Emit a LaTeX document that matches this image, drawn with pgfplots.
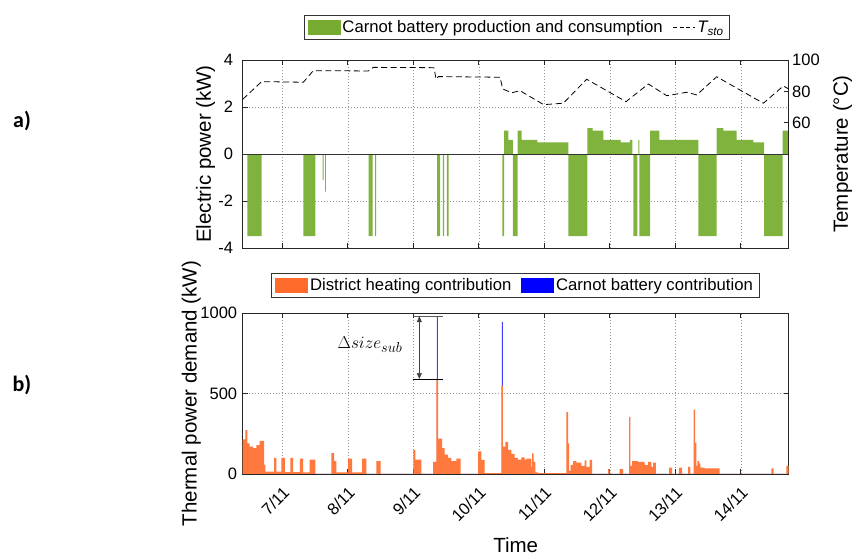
\documentclass[border=0pt]{standalone}
\usepackage{pgfplots}
\pgfplotsset{compat=1.18}
\usetikzlibrary{arrows.meta}
\usepackage{fontspec}
\setmainfont{Liberation Sans}
\newfontfamily\calib{Carlito}
\definecolor{cbgreen}{RGB}{128,179,62}
\definecolor{cbgreenleg}{RGB}{119,172,48}
\definecolor{dhorange}{RGB}{255,120,62}
\definecolor{dhorangeleg}{RGB}{255,107,43}
\definecolor{cbblue}{RGB}{0,0,255}
\definecolor{gridgray}{RGB}{150,150,150}
\pgfplotsset{
  mybase/.style={
    scale only axis, width=546pt, anchor=south west,
    xmin=6.395, xmax=14.731,
    tick align=inside, major tick length=5pt,
    axis line style={line width=0.7pt, black!85},
    every tick/.style={black!85, line width=0.7pt},
    tick label style={font=\fontsize{16.5}{18}\selectfont},
    /pgf/number format/assume math mode=true,
    /pgf/number format/1000 sep={},
    label style={font=\fontsize{20.5}{24}\selectfont},
    major grid style={gridgray, dash pattern=on 1pt off 2pt, line width=0.6pt},
    legend style={font=\fontsize{16.7}{18}\selectfont, draw=black!80, line width=0.6pt,
      inner xsep=4pt, inner ysep=3.5pt,
      /tikz/every even column/.append style={column sep=8pt}},
    legend cell align=left,
  },
}
\begin{document}
\begin{tikzpicture}
\useasboundingbox (0pt,0pt) rectangle (855pt,557pt);
% ---------- a) electric power ----------
\begin{axis}[mybase, at={(242.7pt,309pt)}, height=188pt,
  ymin=-4, ymax=4, ytick={-4,-2,0,2,4}, ytick pos=left,
  xtick={7,...,14}, xticklabels={},
  grid=major,
  ylabel={Electric power (kW)},
  ylabel style={at={(axis description cs:-0.05,0.5)}, anchor=south, inner sep=0pt},
  yticklabel style={xshift=-6pt},
]
\addplot[const plot, fill=cbgreen, draw=none] coordinates {
(6.395,0) (6.466,-3.5) (6.685,0) (7.321,-3.5) (7.504,0) (7.617,-1.1) (7.632,0)
(7.652,-1.6) (7.663,0) (8.319,-3.5) (8.380,0) (8.415,-3.5) (8.431,0)
(9.362,-3.5) (9.408,0) (9.453,-3.5) (9.469,0) (9.514,-3.5) (9.540,0)
(10.359,-3.5) (10.385,1.0) (10.450,0.6) (10.518,-3.5) (10.594,1.0) (10.655,0.6)
(10.893,0.5) (11.366,-3.5) (11.656,1.1) (11.739,1.0) (11.901,0.6) (12.166,0.5)
(12.308,0.6) (12.344,0) (12.359,-3.5) (12.420,0) (12.435,0.6) (12.450,-3.5)
(12.614,1.0) (12.756,0.6) (13.351,-3.5) (13.632,1.1) (13.733,1.0) (13.937,0.6)
(14.191,0.5) (14.354,-3.5) (14.640,1.0) (14.731,1.0) (14.731,0)
} \closedcycle;
\addplot[black!80, line width=0.8pt] coordinates {(6.395,0) (14.731,0)};
\end{axis}
% ---------- temperature axis ----------
\begin{axis}[mybase, at={(242.7pt,309pt)}, height=188pt,
  axis x line=none, axis y line*=right,
  ymin=-20, ymax=100, ytick={60,80,100},
  ylabel={Temperature (°C)},
  ylabel style={at={(axis description cs:1.081,0.5)}, anchor=north, inner sep=0pt},
  legend style={at={(axis description cs:0.502,1.106)}, anchor=south},
  legend columns=2,
]
\addlegendimage{legend image code/.code={\fill[cbgreenleg] (0pt,-7pt) rectangle (32pt,7pt);}}
\addlegendentry{Carnot battery production and consumption}
\addplot[black, line width=0.8pt, dash pattern=on 6pt off 3.5pt,
  legend image code/.code={\draw[black, line width=0.7pt, dash pattern=on 4pt off 2.5pt] (0pt,0pt) -- (22pt,0pt);}]
coordinates {
(6.395,74.9) (6.685,86.2) (7.321,85.8) (7.473,93.2) (8.313,93.0) (8.389,95.3)
(9.316,95.1) (9.347,87.7) (9.382,89.4) (10.324,89.0) (10.365,81.5) (10.502,79.1)
(10.629,80.4) (10.99,71.5) (11.29,72.4) (11.647,87.7) (12.247,73.4) (12.588,84.7)
(12.869,77.2) (13.174,79.4) (13.327,77.7) (13.632,89.3) (14.344,72.4) (14.649,83.4)
(14.731,81.5)
};
\addlegendentry{\textit{T\textsubscript{sto}}}
\end{axis}
% ---------- b) thermal power ----------
\begin{axis}[mybase, at={(242.7pt,83pt)}, height=161pt,
  ymin=0, ymax=1000, ytick={0,500,1000},
  xtick={7,...,14}, xticklabels={7/11,8/11,9/11,10/11,11/11,12/11,13/11,14/11},
  xticklabel style={xshift=4pt, rotate=45, anchor=east, inner sep=0pt},
  xticklabel shift=16pt,
  grid=major,
  ylabel={Thermal power demand (kW)},
  ylabel style={at={(axis description cs:-0.076,0.5)}, anchor=south, inner sep=0pt},
  yticklabel style={xshift=-2pt},
  xlabel={Time},
  xlabel style={at={(axis description cs:0.5,-0.44)}, anchor=center},
  legend style={at={(axis description cs:0.499,1.093)}, anchor=south},
  legend columns=2,
]
\addlegendimage{legend image code/.code={\fill[dhorangeleg] (0pt,-7pt) rectangle (32pt,7pt);}}
\addlegendentry{District heating contribution}
\addlegendimage{legend image code/.code={\fill[cbblue] (0pt,-7pt) rectangle (32pt,7pt);}}
\addlegendentry{Carnot battery contribution}
\addplot[const plot, fill=cbblue!75, draw=none, forget plot] coordinates {
(6.395,0) (9.358,980) (9.375,0) (10.351,945) (10.367,0) (14.731,0)
} \closedcycle;
\addplot[const plot, fill=dhorange, draw=none, forget plot] coordinates {
(6.395,0) (6.395,215) (6.435,273) (6.466,190) (6.502,170) (6.553,160) (6.603,180)
(6.655,205) (6.721,56) (6.740,15) (6.873,100) (6.908,15) (6.985,100) (7.037,12)
(7.122,100) (7.163,12) (7.266,95) (7.316,10) (7.418,90) (7.504,0) (7.748,130)
(7.789,80) (7.824,10) (8.003,95) (8.064,10) (8.217,95) (8.282,0) (8.435,80)
(8.502,0) (9.000,150) (9.031,90) (9.122,0) (9.301,75) (9.351,590) (9.377,220)
(9.438,160) (9.479,120) (9.530,100) (9.580,80) (9.656,95) (9.724,0) (9.988,140)
(10.038,87) (10.090,5) (10.344,550) (10.369,170) (10.405,200) (10.446,150)
(10.496,125) (10.548,100) (10.598,90) (10.649,104) (10.701,90) (10.725,96)
(10.802,45) (10.812,128) (10.838,76) (10.863,10) (10.904,5) (11.336,385)
(11.362,190) (11.377,20) (11.403,56) (11.438,80) (11.489,70) (11.565,50)
(11.617,85) (11.641,45) (11.693,88) (11.728,0) (11.973,30) (11.998,0)
(12.151,30) (12.202,0) (12.293,355) (12.313,50) (12.339,80) (12.431,75)
(12.533,55) (12.583,75) (12.634,45) (12.660,70) (12.705,0) (12.904,40)
(12.950,0) (13.056,40) (13.102,0) (13.194,45) (13.229,0) (13.281,400)
(13.301,195) (13.321,50) (13.336,80) (13.362,65) (13.382,40) (13.449,35)
(13.678,0) (14.466,35) (14.502,0) (14.695,50) (14.731,50) (14.731,0)
} \closedcycle;
\draw[black!65, line width=0.8pt] (axis cs:8.991,980) -- (axis cs:9.449,980);
\draw[black, line width=0.8pt] (axis cs:8.991,590) -- (axis cs:9.449,590);
\draw[black!75, line width=0.6pt, {Triangle[length=6pt,width=5pt]}-{Triangle[length=6pt,width=5pt]}]
  (axis cs:9.092,980) -- (axis cs:9.092,590);
\node[font=\fontsize{19}{21}\selectfont] at (axis cs:8.339,806) {$\Delta size_{sub}$};
\end{axis}
\node[font=\calib\bfseries\fontsize{22}{24}\selectfont] at (22pt,436pt) {a)};
\node[font=\calib\bfseries\fontsize{22}{24}\selectfont] at (22pt,172pt) {b)};
\end{tikzpicture}
\end{document}
